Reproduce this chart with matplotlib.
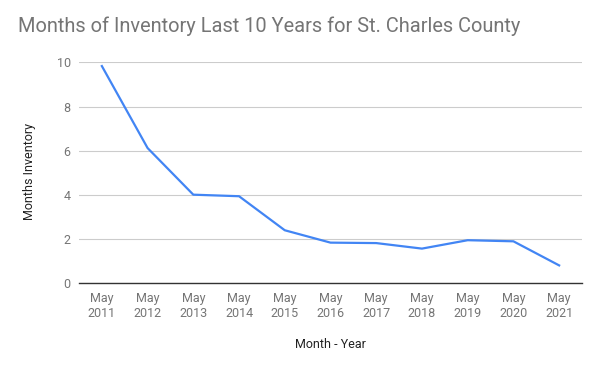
import matplotlib
matplotlib.use("Agg")
import matplotlib.pyplot as plt

years = ["2011", "2012", "2013", "2014", "2015", "2016", "2017", "2018", "2019", "2020", "2021"]
tick_labels = [f"May\n{y}" for y in years]
months_inventory = [9.83, 6.12, 4.01, 3.94, 2.40, 1.84, 1.82, 1.57, 1.95, 1.90, 0.81]
y_ticks = [0, 2, 4, 6, 8, 10]

plt.rcParams['font.family'] = ['Roboto', 'DejaVu Sans']

fig = plt.figure(figsize=(6, 3.71), dpi=100)
ax = fig.add_axes([79/600, 1-283.3/371, (582-79)/600, (283.3-62.3)/371])

x = list(range(len(years)))
ax.plot(x, months_inventory, color="#4285F4", linewidth=1.6, solid_joinstyle="round")

ax.set_xlim(-0.5, len(years) - 0.5)
ax.set_ylim(0, 10)
ax.set_yticks(y_ticks)
ax.set_yticklabels([str(t) for t in y_ticks])
ax.set_xticks(x)
ax.set_xticklabels(tick_labels, linespacing=1.25)

ax.grid(axis="y", color="#cccccc", linewidth=0.8)
ax.set_axisbelow(True)
for s in ["top", "right", "left"]:
    ax.spines[s].set_visible(False)
ax.spines["bottom"].set_color("#333333")
ax.spines["bottom"].set_linewidth(1.0)
ax.spines["bottom"].set_zorder(3)

ax.tick_params(axis="both", length=0, labelsize=9, labelcolor="#757575")
ax.tick_params(axis="x", pad=6)
ax.tick_params(axis="y", pad=6)

fig.text(18/600, 1-32/371, "Months of Inventory Last 10 Years for St. Charles County",
         fontsize=14.4, color="#757575", ha="left", va="baseline")
fig.text(30/600, 1-172/371, "Months Inventory", rotation=90, fontsize=9,
         color="#222222", ha="center", va="center")
fig.text(330/600, 1-345/371, "Month - Year", fontsize=9, color="#222222",
         ha="center", va="center")

fig.savefig("out.png", dpi=100, facecolor="white")
